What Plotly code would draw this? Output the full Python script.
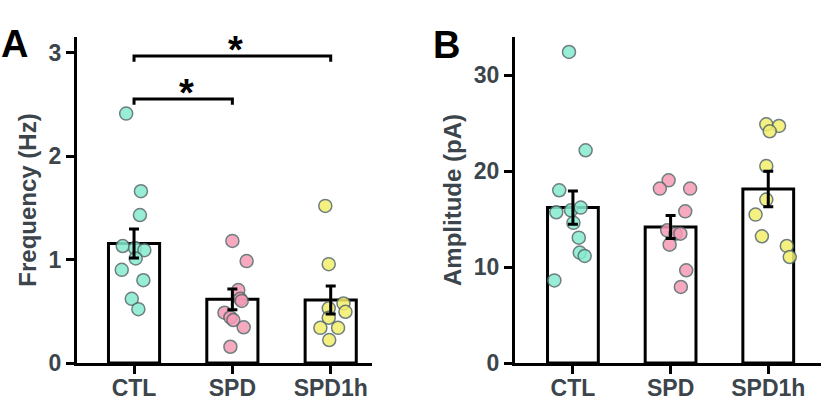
import plotly.graph_objects as go

categories = ["CTL", "SPD", "SPD1h"]
colors = ["#86ebcf", "#f59bb5", "#f3ef6b"]

# Panel A: frequency (Hz)
freq_points = [
    [2.41, 1.66, 1.43, 1.13, 1.11, 1.09, 1.01, 0.90, 0.80, 0.62, 0.52],
    [1.18, 0.985, 0.705, 0.62, 0.60, 0.486, 0.44, 0.415, 0.345, 0.157],
    [1.518, 0.955, 0.576, 0.528, 0.495, 0.437, 0.34, 0.34, 0.222],
]
freq_jitter = [
    [-0.08, 0.07, 0.06, -0.115, 0.01, 0.105, 0.017, -0.125, 0.095, -0.023, 0.044],
    [0.0, 0.145, 0.06, 0.08, 0.095, -0.08, -0.02, 0.01, 0.115, -0.02],
    [-0.055, -0.02, 0.13, -0.02, 0.15, -0.02, -0.105, 0.075, -0.015],
]
freq_mean = [1.155, 0.615, 0.608]
freq_sem = [0.14, 0.10, 0.135]

# Panel B: amplitude (pA)
amp_points = [
    [32.4, 22.16, 17.99, 15.7, 15.9, 16.19, 14.6, 13.06, 11.5, 11.15, 8.6],
    [19.03, 18.17, 18.17, 15.8, 13.82, 13.47, 13.47, 12.33, 9.66, 7.92],
    [24.86, 24.69, 24.14, 20.52, 17.02, 15.46, 13.2, 12.19, 11.04],
]
amp_jitter = [
    [-0.04, 0.13, -0.14, -0.17, -0.02, 0.08, 0.005, 0.06, 0.07, 0.12, -0.19],
    [-0.02, -0.11, 0.2, 0.15, -0.035, 0.05, 0.1, -0.01, 0.16, 0.105],
    [-0.02, 0.11, 0.015, -0.02, -0.02, -0.13, -0.065, 0.19, 0.22],
]
amp_mean = [16.19, 14.17, 18.13]
amp_sem = [1.73, 1.2, 1.85]

# significance brackets for panel A: (from, to, height, tip_drop)
brackets = [(0, 1, 2.55, 0.055), (0, 2, 2.966, 0.055)]

TEXT = "#3b454b"
FONT = "Liberation Sans, Arial, sans-serif"
W, H = 822, 403


def px_x(p):
    return p / W


def px_y(p):
    return 1 - p / H


fig = go.Figure()


def add_panel(xa, ya, points, jitter, means, sems):
    xs = list(range(len(categories)))
    fig.add_trace(go.Bar(
        x=xs, y=means, width=0.52, xaxis=xa, yaxis=ya,
        marker=dict(color="white", line=dict(color="black", width=3)),
        showlegend=False, hoverinfo="skip"))
    for i, (pts, jit) in enumerate(zip(points, jitter)):
        fig.add_trace(go.Scatter(
            x=[i + j for j in jit], y=pts, mode="markers", xaxis=xa, yaxis=ya,
            marker=dict(size=13, color=colors[i], opacity=0.85,
                        line=dict(color="#56696a", width=1.5)),
            showlegend=False))
    fig.add_trace(go.Scatter(
        x=xs, y=means, mode="markers", xaxis=xa, yaxis=ya,
        marker=dict(size=0.1, color="rgba(0,0,0,0)"),
        error_y=dict(type="data", array=sems, visible=True, color="black",
                     thickness=3, width=5),
        showlegend=False, hoverinfo="skip"))


add_panel("x", "y", freq_points, freq_jitter, freq_mean, freq_sem)
add_panel("x2", "y2", amp_points, amp_jitter, amp_mean, amp_sem)

for a, b, h, d in brackets:
    fig.add_trace(go.Scatter(
        x=[a, a, b, b], y=[h - d, h, h, h - d], mode="lines",
        line=dict(color="black", width=3), xaxis="x", yaxis="y",
        showlegend=False, hoverinfo="skip"))
    fig.add_annotation(x=(a + b) / 2, y=h, xref="x", yref="y", text="<b>*</b>",
                       showarrow=False, yanchor="bottom", yshift=-17, xshift=3,
                       font=dict(size=38, color="black", family=FONT))

axis_common = dict(
    showline=True, linecolor="black", linewidth=3, ticks="outside",
    tickcolor="black", tickwidth=3, ticklen=8, showgrid=False, zeroline=False,
    automargin=False,
    tickfont=dict(size=23, color=TEXT, family=FONT),
)

fig.update_layout(
    width=W, height=H, margin=dict(l=0, r=0, t=0, b=0, autoexpand=False),
    plot_bgcolor="white", paper_bgcolor="white",
    font=dict(family=FONT, color=TEXT),
    xaxis=dict(domain=[px_x(77), px_x(372)], range=[-0.58, 2.42],
               tickvals=[0, 1, 2], ticktext=[f"<b>{c}</b>" for c in categories],
               anchor="y", ticklabelstandoff=-6, **axis_common),
    yaxis=dict(domain=[px_y(363), px_y(37)], range=[0, 3.15],
               tickvals=[0, 1, 2, 3], ticktext=["<b>0</b>", "<b>1</b>", "<b>2</b>", "<b>3</b>"],
               anchor="x", title=dict(text="<b>Frequency (Hz)</b>", standoff=6,
                                      font=dict(size=24, color=TEXT, family=FONT)),
               **axis_common),
    xaxis2=dict(domain=[px_x(515), px_x(821)], range=[-0.593, 2.54],
                tickvals=[0, 1, 2], ticktext=[f"<b>{c}</b>" for c in categories],
                anchor="y2", ticklabelstandoff=-6, **axis_common),
    yaxis2=dict(domain=[px_y(363), px_y(37)], range=[0, 33.96],
                tickvals=[0, 10, 20, 30], ticktext=["<b>0</b>", "<b>10</b>", "<b>20</b>", "<b>30</b>"],
                anchor="x2", title=dict(text="<b>Amplitude (pA)</b>", standoff=6,
                                        font=dict(size=24, color=TEXT, family=FONT)),
                **axis_common),
)

fig.add_annotation(x=0, y=px_y(22), xref="paper", yref="paper", xanchor="left",
                   text="<b>A</b>", showarrow=False, borderpad=0,
                   font=dict(size=38, color="black", family=FONT))
fig.add_annotation(x=px_x(446), y=px_y(22), xref="paper", yref="paper",
                   text="<b>B</b>", showarrow=False,
                   font=dict(size=38, color="black", family=FONT))

fig.write_html("out.html", config={"displayModeBar": False},
               post_script="document.body.style.margin='0';")
